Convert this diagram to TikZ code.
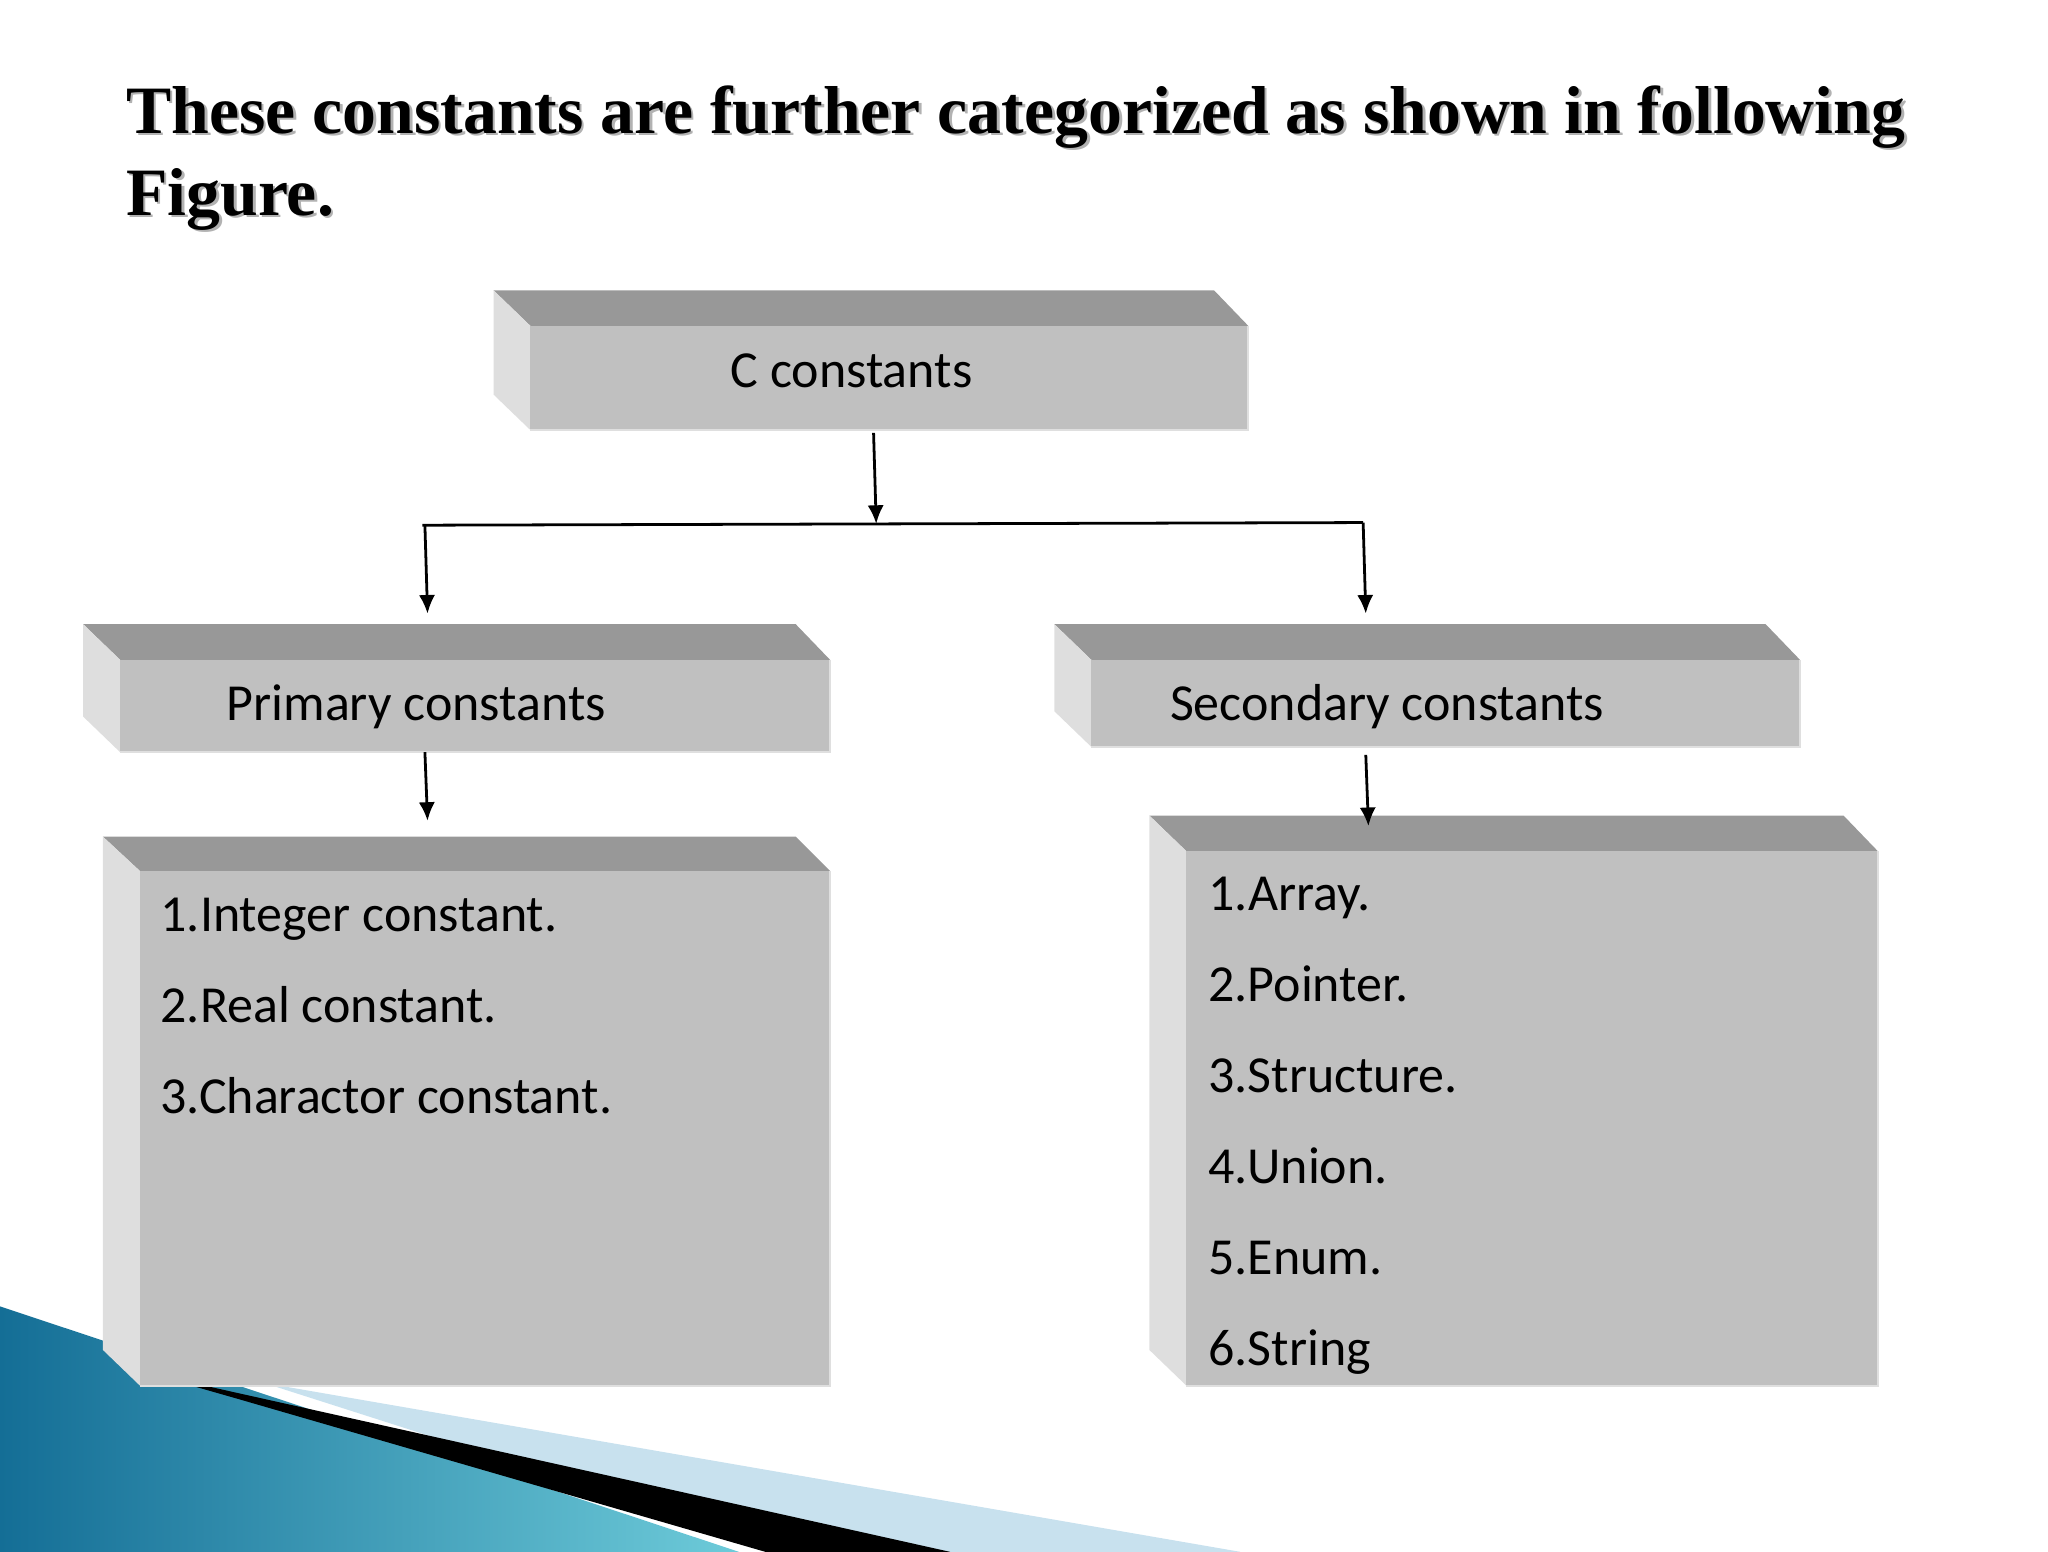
\documentclass[tikz,border=0pt]{standalone}
\usepackage{fontspec}
\setmainfont{Liberation Serif}
\newfontfamily\calfont{Carlito}
\usetikzlibrary{arrows.meta}
\definecolor{topc}{RGB}{152,152,152}
\definecolor{frontc}{RGB}{192,192,192}
\definecolor{leftc}{RGB}{222,222,222}
\definecolor{teal1}{RGB}{20,110,150}
\definecolor{lb}{RGB}{200,225,238}
\tikzset{lbl/.style={anchor=base west,inner sep=0pt,font=\calfont\fontsize{11.2}{13}\selectfont},
 arr/.style={-{Latex[length=4pt,width=3.5pt]},line width=0.6pt},
 ln/.style={line width=0.6pt}}
\newcommand{\bbox}[6]{% x0 x1 ytop yfront ybottom xfront (front-left)
 \fill[topc] (#1,#3)--(#2-26,#3)--(#2,#4)--(#6,#4)--cycle;
 \fill[leftc] (#1,#3)--(#6,#4)--(#6,#5)--(#1,#5-27)--cycle;
 \fill[frontc] (#6,#4) rectangle (#2,#5);
 \draw[white!75!gray,line width=0.4pt] (#6,#5)--(#2,#5)--(#2,#4);}
\begin{document}
\begin{tikzpicture}[x=0.01cm,y=-0.01cm]
\useasboundingbox (0,0) rectangle (1552,1176);
% background decoration
\fill[lb] (200,1048)--(940,1176)--(600,1176)--cycle;
\shade[left color=teal1,right color=cyan!40!teal1!60] (0,990)--(560,1176)--(0,1176)--cycle;
\fill[black] (110,1040)--(720,1176)--(580,1176)--(180,1060)--cycle;
% title
\foreach \dx/\c in {2/gray!60,0/black}{
 \node[anchor=base west,inner sep=0pt,font=\bfseries\fontsize{14.6}{17}\selectfont,text=\c] at (95+\dx,101+\dx) {These constants are further categorized as shown in following};
 \node[anchor=base west,inner sep=0pt,font=\bfseries\fontsize{14.6}{17}\selectfont,text=\c] at (95+\dx,163+\dx) {Figure.};}
% boxes
\bbox{374}{946}{220}{247}{326}{402}
\bbox{63}{629}{473}{500}{570}{91}
\bbox{799}{1364}{473}{500}{566}{827}
\bbox{78}{629}{634}{660}{1050}{106}
\bbox{871}{1423}{618}{645}{1050}{899}
\node[lbl] (c) at (553,294) {C constants};
\node[lbl] (p) at (171,546) {Primary constants};
\node[lbl] (s) at (886,546) {Secondary constants};
\foreach \t [count=\i] in {1.Integer constant.,2.Real constant.,3.Charactor constant.}
 \node[lbl] (l\i) at (121,706+69*\i-69) {\t};
\foreach \t [count=\i] in {1.Array.,2.Pointer.,3.Structure.,4.Union.,5.Enum.,6.String}
 \node[lbl] (r\i) at (915,690+69*\i-69) {\t};
% connectors
\coordinate (cb) at (662,328); \coordinate (j) at (664,397);
\coordinate (hl) at (320,398); \coordinate (hr) at (1033,396);
\coordinate (pt) at (324,465); \coordinate (st) at (1035,465);
\coordinate (pb) at (322,570); \coordinate (lt) at (324,622);
\coordinate (sb) at (1035,572); \coordinate (rt) at (1037,626);
\draw[arr] (cb)--(j);
\draw[ln] (hl)--(hr);
\draw[arr] (322,398)--(pt);
\draw[arr] (hr)--(st);
\draw[arr] (pb)--(lt);
\draw[arr] (sb)--(rt);
\end{tikzpicture}
\end{document}
